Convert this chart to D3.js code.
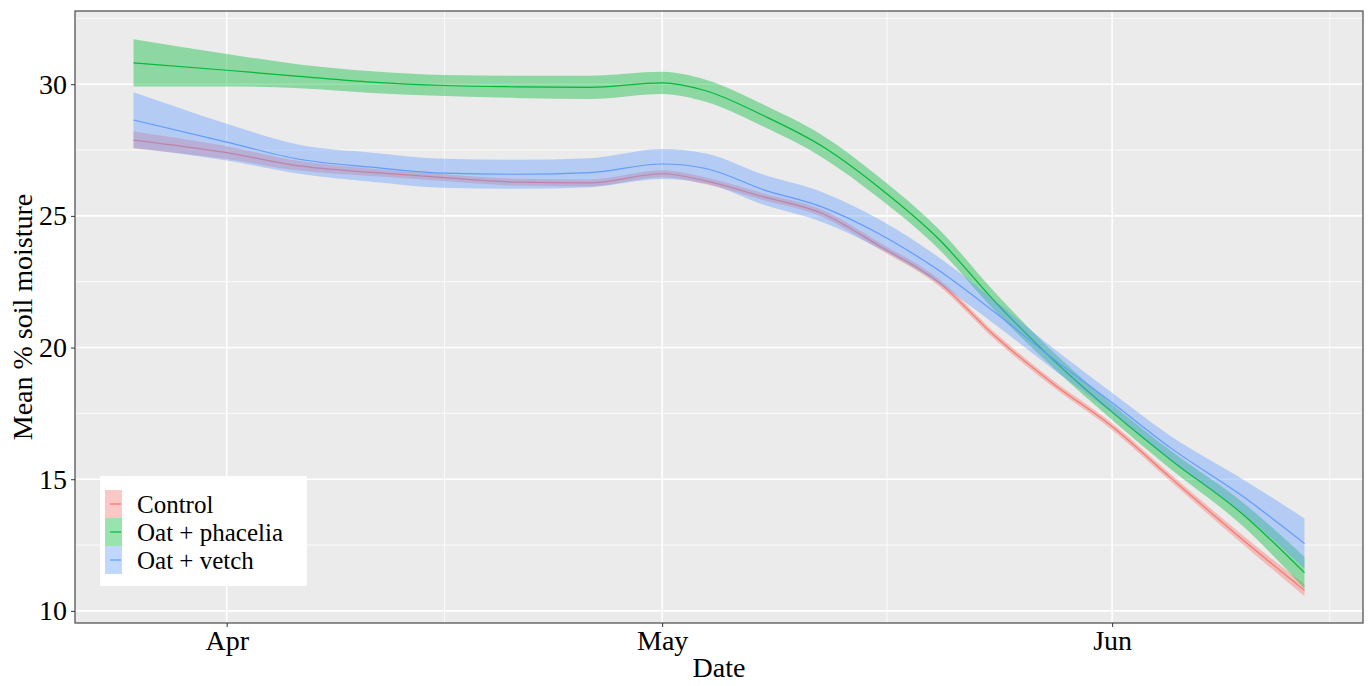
<!DOCTYPE html>
<html>
<head>
<meta charset="utf-8">
<script src="https://cdn.jsdelivr.net/npm/d3@7"></script>
<style>
    body { margin: 0; background: #fff; }
    #chart text { font-family: "Liberation Serif", "Times New Roman", serif; fill: #000; }
</style>
</head>
<body>
<div id="chart"></div>
<script>
// smoothed series (loess fit + ribbon half width)
const dates = ['2021-03-25T14:00Z', '2021-04-01', '2021-04-06', '2021-04-11', '2021-04-16', '2021-04-21',
    '2021-04-26', '2021-05-01', '2021-05-04', '2021-05-08', '2021-05-12', '2021-05-16', '2021-05-20',
    '2021-05-24', '2021-05-28', '2021-06-01', '2021-06-05', '2021-06-10', '2021-06-14T06:00Z'];

const controlMean = [27.88, 27.4, 26.9, 26.65, 26.45, 26.28, 26.25, 26.6, 26.33, 25.72, 25.1, 23.85, 22.5, 20.4, 18.6, 17.0, 15.07, 12.7, 10.78];
const controlSe = [0.32, 0.24, 0.18, 0.14, 0.13, 0.13, 0.13, 0.13, 0.13, 0.13, 0.13, 0.13, 0.13, 0.13, 0.13, 0.13, 0.14, 0.17, 0.22];

const phaceliaMean = [30.81, 30.53, 30.3, 30.08, 29.95, 29.9, 29.88, 30.05, 29.75, 28.8, 27.65, 26.05, 24.15, 21.7, 19.5, 17.55, 15.75, 13.67, 11.45];
const phaceliaSe = [0.9, 0.62, 0.45, 0.41, 0.4, 0.42, 0.44, 0.42, 0.42, 0.42, 0.42, 0.4, 0.38, 0.35, 0.3, 0.3, 0.35, 0.45, 0.6];

const vetchMean = [28.64, 27.8, 27.15, 26.85, 26.62, 26.58, 26.64, 26.97, 26.8, 25.99, 25.34, 24.3, 22.95, 21.3, 19.55, 17.9, 16.2, 14.35, 12.56];
const vetchSe = [1.05, 0.7, 0.55, 0.55, 0.55, 0.55, 0.55, 0.57, 0.57, 0.57, 0.57, 0.55, 0.5, 0.45, 0.4, 0.38, 0.45, 0.65, 0.95];

const seriesNames = ['Control', 'Oat + phacelia', 'Oat + vetch'];
const seriesColors = ['#F8766D', '#00BA38', '#619CFF'];

const yTicks = [10, 15, 20, 25, 30];
const yMinor = [12.5, 17.5, 22.5, 27.5, 32.5];
const xTicks = ['2021-04-01', '2021-05-01', '2021-06-01'];
const xMinor = ['2021-04-16', '2021-05-16T12:00Z', '2021-06-16'];

const W = 1372, H = 686;
const margin = { top: 11, right: 9, bottom: 63, left: 75 };
const width = W - margin.left - margin.right;
const height = H - margin.top - margin.bottom;

const parse = function (s) { return new Date(s.length === 10 ? s + 'T00:00Z' : s); };

const series = seriesNames.map(function (name, i) {
    const m = [controlMean, phaceliaMean, vetchMean][i];
    const se = [controlSe, phaceliaSe, vetchSe][i];
    return {
        name: name,
        color: seriesColors[i],
        values: dates.map(function (d, j) {
            return { date: parse(d), y: m[j], lo: m[j] - se[j], hi: m[j] + se[j] };
        })
    };
});

// ggplot style 5% expansion
const t0 = parse(dates[0]).getTime(), t1 = parse(dates[dates.length - 1]).getTime();
const pad = (t1 - t0) * 0.05;
const xScale = d3.scaleUtc().domain([new Date(t0 - pad), new Date(t1 + pad)]).range([0, width]);
const yScale = d3.scaleLinear().domain([9.54, 32.78]).range([height, 0]);

const svg = d3.select('#chart').append('svg')
    .attr('width', W).attr('height', H)
    .append('g')
    .attr('transform', 'translate(' + margin.left + ',' + margin.top + ')');

svg.append('rect').attr('width', width).attr('height', height).attr('fill', '#ebebeb');

svg.selectAll('.ymin').data(yMinor).enter().append('line')
    .attr('x1', 0).attr('x2', width)
    .attr('y1', function (d) { return yScale(d); }).attr('y2', function (d) { return yScale(d); })
    .attr('stroke', '#fff').attr('stroke-width', 0.8);
svg.selectAll('.xmin').data(xMinor).enter().append('line')
    .attr('y1', 0).attr('y2', height)
    .attr('x1', function (d) { return xScale(parse(d)); }).attr('x2', function (d) { return xScale(parse(d)); })
    .attr('stroke', '#fff').attr('stroke-width', 0.8);
svg.selectAll('.ymaj').data(yTicks).enter().append('line')
    .attr('x1', 0).attr('x2', width)
    .attr('y1', function (d) { return yScale(d); }).attr('y2', function (d) { return yScale(d); })
    .attr('stroke', '#fff').attr('stroke-width', 1.6);
svg.selectAll('.xmaj').data(xTicks).enter().append('line')
    .attr('y1', 0).attr('y2', height)
    .attr('x1', function (d) { return xScale(parse(d)); }).attr('x2', function (d) { return xScale(parse(d)); })
    .attr('stroke', '#fff').attr('stroke-width', 1.6);

const area = d3.area().curve(d3.curveMonotoneX)
    .x(function (d) { return xScale(d.date); })
    .y0(function (d) { return yScale(d.lo); })
    .y1(function (d) { return yScale(d.hi); });
const line = d3.line().curve(d3.curveMonotoneX)
    .x(function (d) { return xScale(d.date); })
    .y(function (d) { return yScale(d.y); });

series.forEach(function (s) {
    svg.append('path').datum(s.values).attr('d', area)
        .attr('fill', s.color).attr('fill-opacity', 0.4);
    svg.append('path').datum(s.values).attr('d', line)
        .attr('fill', 'none').attr('stroke', s.color).attr('stroke-width', 1.2);
});

svg.append('rect').attr('width', width).attr('height', height)
    .attr('fill', 'none').attr('stroke', '#555').attr('stroke-width', 1.3);

const xAxis = d3.axisBottom(xScale).tickValues(xTicks.map(parse))
    .tickFormat(d3.utcFormat('%b')).tickSize(4).tickPadding(3);
const yAxis = d3.axisLeft(yScale).tickValues(yTicks).tickSize(4).tickPadding(4);

const gx = svg.append('g').attr('transform', 'translate(0,' + height + ')').call(xAxis);
const gy = svg.append('g').call(yAxis);
[gx, gy].forEach(function (g) {
    g.select('.domain').remove();
    g.selectAll('.tick line').attr('stroke', '#333');
    g.selectAll('.tick text').style('font-size', '28px');
});

svg.append('text').attr('x', width / 2).attr('y', height + 54)
    .attr('text-anchor', 'middle').style('font-size', '28px').text('Date');
svg.append('text').attr('transform', 'rotate(-90)')
    .attr('x', -height / 2).attr('y', -43)
    .attr('text-anchor', 'middle').style('font-size', '28px').text('Mean % soil moisture');

// legend, inside the panel bottom left
const legend = svg.append('g').attr('transform', 'translate(25,465)');
legend.append('rect').attr('width', 207).attr('height', 110).attr('fill', '#fff');
const items = legend.selectAll('.item').data(series).enter().append('g')
    .attr('transform', function (d, i) { return 'translate(5,' + (14 + i * 28) + ')'; });
items.append('rect').attr('width', 17).attr('height', 28)
    .attr('fill', function (d) { return d.color; }).attr('fill-opacity', 0.4);
items.append('line').attr('x1', 5).attr('x2', 16).attr('y1', 14).attr('y2', 14)
    .attr('stroke', function (d) { return d.color; }).attr('stroke-width', 1.2);
items.append('text').attr('x', 32).attr('y', 14).attr('dy', '0.35em')
    .style('font-size', '25px').text(function (d) { return d.name; });
</script>
</body>
</html>
